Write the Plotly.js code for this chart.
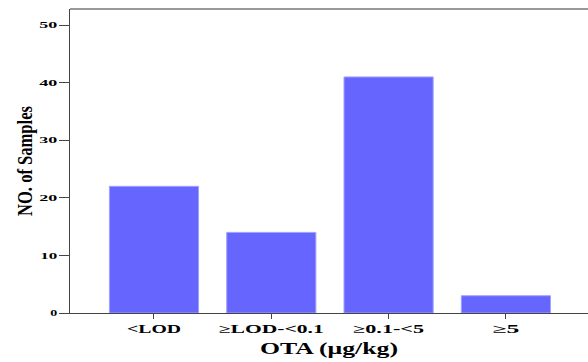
<!DOCTYPE html>
<html><head><meta charset="utf-8">
<script src="https://cdn.plot.ly/plotly-3.0.1.min.js"></script>
<style>html,body{margin:0;padding:0;background:#fff}</style>
</head><body>
<div id="chart" style="width:588px;height:362px"></div>
<script>
const categories = ["<LOD", "≥LOD-<0.1", "≥0.1-<5", "≥5"];
const samples = [22, 14, 41, 3];
const yTicks = [0, 10, 20, 30, 40, 50];

// rendered text widths (px) to mimic the horizontally stretched original
const xTickWidths = [54, 105, 71, 27];
const yTickWidths = [7, 17, 18, 18, 18, 18];

const SERIF = "Liberation Serif, Times New Roman, serif";

const trace = {
  type: "bar",
  x: categories,
  y: samples,
  width: 0.76,
  marker: {color: "#6666ff", line: {color: "#a0a0ff", width: 1}},
  hoverinfo: "none"
};
const layout = {
  width: 588, height: 362,
  margin: {l: 70, r: 0, t: 9, b: 49},
  paper_bgcolor: "#fff", plot_bgcolor: "#fff",
  showlegend: false,
  font: {family: SERIF, color: "#000"},
  xaxis: {
    type: "category",
    range: [-0.716, 3.7],
    showline: true, linecolor: "#444", linewidth: 1,
    ticks: "outside", ticklen: 5, tickcolor: "#444",
    tickfont: {size: 12, family: SERIF, weight: "bold", color: "#000"},
    showgrid: false, zeroline: false,
    title: {text: "OTA (μg/kg)", font: {size: 17, family: SERIF, weight: "bold", color: "#000"}, standoff: 6}
  },
  yaxis: {
    range: [0, 52.8],
    tickvals: yTicks,
    showline: true, linecolor: "#444", linewidth: 1,
    ticks: "outside", ticklen: 10, tickcolor: "#444",
    tickfont: {size: 9, family: SERIF, weight: "bold", color: "#000"},
    showgrid: false, zeroline: false,
    title: {text: "NO. of Samples", font: {size: 20, family: SERIF, weight: "bold", color: "#000"}, standoff: 10}
  },
  shapes: [{type: "line", xref: "paper", yref: "paper", x0: 0, x1: 1, y0: 1, y1: 1,
            line: {color: "#999", width: 2}}]
};

function fit(el, w) {
  if (!el || !w) return;
  el.setAttribute("textLength", w);
  el.setAttribute("lengthAdjust", "spacingAndGlyphs");
}
Plotly.newPlot("chart", [trace], layout, {displayModeBar: false, staticPlot: true}).then(gd => {
  gd.querySelectorAll(".xtick text").forEach((t, i) => fit(t, xTickWidths[i]));
  gd.querySelectorAll(".ytick text").forEach((t, i) => fit(t, yTickWidths[i]));
  fit(gd.querySelector(".xtitle"), 138);
  fit(gd.querySelector(".ytitle"), 110);
});
</script>
</body></html>
